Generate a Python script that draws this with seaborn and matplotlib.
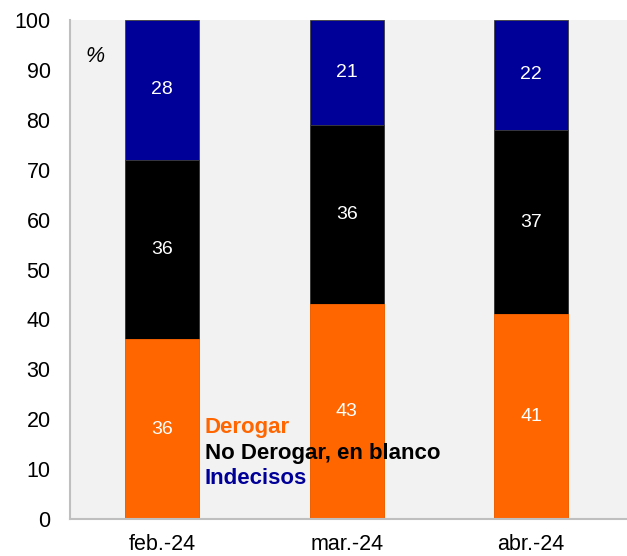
import matplotlib
matplotlib.use("Agg")
import matplotlib.pyplot as plt
import seaborn as sns
import numpy as np

months = ["feb.-24", "mar.-24", "abr.-24"]
derogar = [36, 43, 41]
no_derogar = [36, 36, 37]
indecisos = [28, 21, 22]
series_names = ["Derogar", "No Derogar, en blanco", "Indecisos"]
colors = ["#FF6600", "#000000", "#000099"]

sns.set_theme(style="white")
plt.rcParams["font.family"] = ["Liberation Sans", "DejaVu Sans"]

fig = plt.figure(figsize=(6.27, 5.56), dpi=100)
ax = fig.add_axes([70/627, 37/556, 557/627, 499/556])
ax.set_facecolor("#F2F2F2")

d = np.array(derogar)
n = np.array(no_derogar)
i = np.array(indecisos)
cum2 = d + n
cum3 = d + n + i

for vals, col in [(cum3, colors[2]), (cum2, colors[1]), (d, colors[0])]:
    sns.barplot(x=months, y=vals, color=col, width=0.4, saturation=1,
                linewidth=0.6, edgecolor="#404040" if col != colors[0] else col, ax=ax)

for k in range(len(months)):
    ax.text(k, d[k] / 2, str(d[k]), ha="center", va="center", color="white", fontsize=14)
    ax.text(k, d[k] + n[k] / 2, str(n[k]), ha="center", va="center", color="white", fontsize=14)
    ax.text(k, cum2[k] + i[k] / 2, str(i[k]), ha="center", va="center", color="white", fontsize=14)

ax.set_xlim(-0.5, 2.52)
ax.set_ylim(0, 100)
ax.set_yticks(range(0, 101, 10))
ax.tick_params(axis="y", length=0, pad=14, labelsize=15.5, colors="black")
ax.tick_params(axis="x", length=0, pad=11, labelsize=15.5, colors="black")
ax.set_xlabel("")
ax.set_ylabel("")

for s in ["top", "right"]:
    ax.spines[s].set_visible(False)
for s in ["left", "bottom"]:
    ax.spines[s].set_color("#BFBFBF")
    ax.spines[s].set_linewidth(1.5)

fig.text(95/627, 1 - 57/556, "%", fontsize=15.5, style="italic",
         ha="center", va="center", color="black")

for name, col, yp in zip(series_names, colors, [427, 453, 479]):
    fig.text(205/627, 1 - yp/556, name, color=col, fontsize=16, fontweight="bold",
             ha="left", va="center")

fig.savefig("out.png", dpi=100)
